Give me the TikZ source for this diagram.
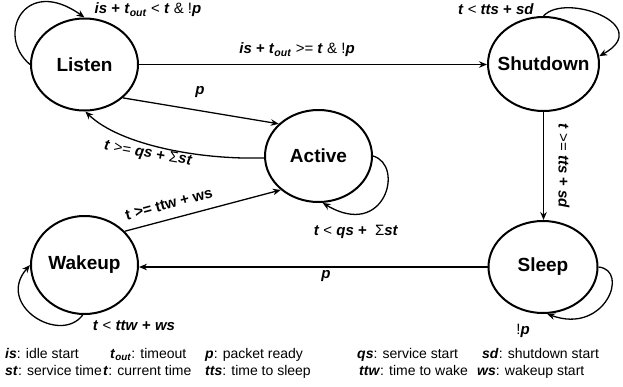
\documentclass[tikz,border=0pt]{standalone}
\usepackage{fontspec}
\setmainfont{Liberation Sans}
\usetikzlibrary{shapes.geometric,arrows.meta}
\newcommand{\V}[1]{\textbf{\textit{#1}}}
\newcommand{\stt}[1]{\makebox[0pt]{#1}}
\begin{document}
\begin{tikzpicture}[x=1pt,y=1pt,
  state/.style={ellipse,draw,line width=2pt,inner sep=0pt,font=\fontsize{19}{22}\selectfont\bfseries},
  edge/.style={line width=1.3pt,-{Stealth[length=8pt,width=6.5pt]}},
  lab/.style={font=\fontsize{15}{18}\selectfont,inner sep=1pt},
  leg/.style={font=\fontsize{14}{16}\selectfont,anchor=base west,inner sep=0pt}]
\path[use as bounding box] (0,0) rectangle (623,-386);

\node[state,minimum width=107pt,minimum height=92pt] (L) at (84.5,-64.5) {\stt{Listen}};
\node[state,minimum width=111pt,minimum height=94pt] (S) at (543.5,-64) {\stt{Shutdown}};
\node[state,minimum width=107pt,minimum height=92pt] (A) at (318.5,-156) {\stt{Active}};
\node[state,minimum width=107pt,minimum height=98pt] (W) at (84.5,-265) {\stt{Wakeup}};
\node[state,minimum width=109pt,minimum height=92pt] (Z) at (543,-267) {\stt{Sleep}};

% Listen -> Shutdown
\draw[edge] (L.east) -- (L.east -| S.west);
\node[lab] (l1) at (297,-50) {\V{is} \textbf{+} \V{t}\textsubscript{\V{out}} >= \V{t} \& !\V{p}};

% Listen self loop
\draw[edge] (L.west) .. controls (-5,-35) and (25,25) .. (L.north);
\node[lab] (l2) at (148,-10) {\V{is} \textbf{+} \V{t}\textsubscript{\V{out}} < \V{t} \& !\V{p}};

% Listen -> Active
\draw[edge] (L.-41) -- (A.141);
\node[lab] (l3) at (200,-92) {\V{p}};

% Active -> Listen
\draw[edge] (A.182) .. controls (200,-160) and (120,-145) .. (L.-89);
\node[lab,rotate=-10] (l4) at (148,-154) {\V{t} >= \V{qs} \textbf{+} Σ\V{st}};

% Active self loop
\draw[edge] (A.east) .. controls (405,-165) and (385,-240) .. (A.-85);
\node[lab] (l5) at (356,-232) {\V{t} < \V{qs} \textbf{+}\ \ Σ\V{st}};

% Shutdown self loop
\draw[edge] (S.north) .. controls (565,8) and (655,-25) .. (S.8);
\node[lab] (l6) at (496,-9) {\V{t} < \V{tts} \textbf{+} \V{sd}};

% Shutdown -> Sleep
\draw[edge] (S.south) -- (S.south |- Z.north);
\node[lab,rotate=-90] (l7) at (564,-166) {\V{t} >= \V{tts} \textbf{+} \V{sd}};

% Sleep self loop
\draw[edge] (Z.east) .. controls (630,-270) and (605,-335) .. (Z.-85);
\node[lab] (l8) at (523,-331) {!\V{p}};

% Sleep -> Wakeup
\draw[edge] (Z.west) -- (Z.west -| W.east);
\node[lab] (l9) at (326,-276) {\V{p}};

% Wakeup -> Active
\draw[edge] (W.40) -- (A.222);
\node[lab,rotate=15] (l10) at (169,-204) {\textbf{t >= ttw + ws}};

% Wakeup self loop
\draw[edge] (W.-92) .. controls (60,-345) and (-5,-305) .. (W.west);
\node[lab] (l11) at (134,-326) {\V{t} < \V{ttw} \textbf{+} \V{ws}};

% Legend
\node[leg] (k1) at (5,-358) {\V{is}: idle start};
\node[leg] (k2) at (110,-358) {\V{t}\textsubscript{\V{out}}: timeout};
\node[leg] (k3) at (205,-358) {\V{p}: packet ready};
\node[leg] (k4) at (357,-358) {\V{qs}: service start};
\node[leg] (k5) at (482,-358) {\V{sd}: shutdown start};
\node[leg] (k6) at (5,-375) {\V{st}: service time};
\node[leg] (k7) at (103,-375) {\V{t}: current time};
\node[leg] (k8) at (205,-375) {\V{tts}: time to sleep};
\node[leg] (k9) at (359,-375) {\V{ttw}: time to wake};
\node[leg] (k10) at (477,-375) {\V{ws}: wakeup start};
\end{tikzpicture}
\end{document}
